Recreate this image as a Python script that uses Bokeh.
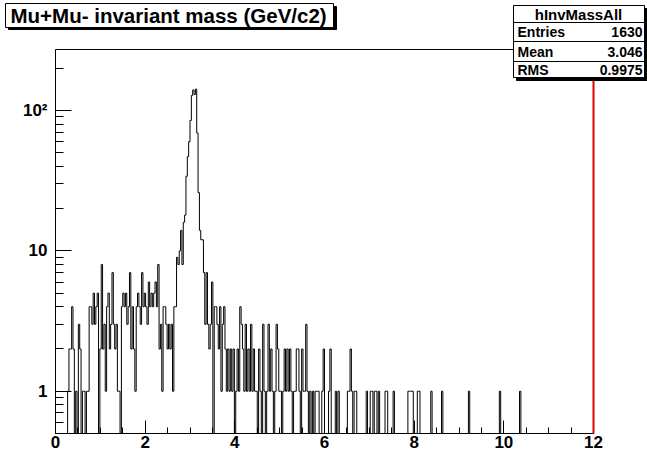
import numpy as np
from bokeh.plotting import figure
from bokeh.models import FixedTicker, BoxAnnotation, Label, Range1d, LinearAxis, LogAxis
from bokeh.embed import file_html
from bokeh.resources import INLINE

# Dimuon invariant mass histogram: 400 bins of 0.03 GeV/c2 from 0 to 12
BIN_LO = 0.0
BIN_HI = 12.0
counts = [
    0, 0, 0, 0, 0, 0, 0, 0, 0, 1,
    2, 2, 4, 2, 0, 1, 0, 3, 2, 0,
    1, 1, 0, 1, 1, 4, 4, 3, 5, 3,
    4, 5, 0, 2, 8, 2, 3, 1, 4, 5,
    2, 3, 7, 3, 2, 3, 1, 1, 0, 4,
    5, 4, 5, 3, 4, 7, 2, 4, 2, 1,
    4, 5, 4, 3, 7, 4, 5, 4, 3, 6,
    4, 5, 4, 5, 6, 4, 8, 2, 3, 1,
    4, 4, 3, 2, 3, 2, 3, 1, 4, 4,
    9, 8, 10, 14, 8, 16, 18, 34, 47, 60,
    85, 128, 140, 130, 142, 69, 26, 14, 12, 12,
    7, 3, 7, 3, 2, 3, 6, 0, 4, 4,
    3, 2, 4, 1, 3, 4, 2, 1, 2, 1,
    2, 1, 2, 0, 1, 2, 1, 4, 3, 2,
    1, 3, 1, 2, 1, 3, 1, 2, 1, 1,
    0, 2, 1, 0, 3, 1, 0, 1, 3, 1,
    2, 1, 0, 1, 3, 2, 1, 1, 0, 1,
    2, 1, 2, 1, 2, 1, 0, 1, 1, 2,
    2, 1, 0, 2, 1, 1, 3, 1, 0, 1,
    0, 1, 0, 1, 1, 1, 0, 0, 1, 2,
    0, 0, 0, 1, 2, 0, 0, 0, 1, 0,
    1, 0, 0, 0, 0, 0, 0, 1, 1, 2,
    1, 0, 1, 1, 0, 0, 0, 0, 0, 0,
    0, 1, 0, 0, 1, 1, 0, 1, 1, 0,
    1, 0, 0, 0, 0, 1, 1, 0, 0, 0,
    0, 1, 0, 0, 0, 0, 0, 0, 0, 0,
    0, 0, 1, 1, 1, 1, 0, 0, 0, 1,
    1, 0, 0, 0, 0, 0, 0, 0, 0, 1,
    0, 0, 0, 0, 0, 0, 0, 1, 0, 0,
    0, 0, 0, 0, 0, 0, 0, 0, 0, 0,
    0, 0, 0, 0, 0, 0, 0, 1, 0, 0,
    0, 0, 0, 0, 0, 0, 0, 0, 0, 0,
    0, 0, 0, 0, 0, 0, 0, 0, 0, 0,
    1, 0, 0, 0, 0, 0, 0, 0, 0, 0,
    0, 0, 0, 0, 0, 1, 0, 0, 0, 0,
    0, 0, 0, 0, 0, 0, 0, 0, 0, 0,
    0, 0, 0, 0, 0, 0, 0, 0, 0, 0,
    0, 0, 0, 0, 0, 0, 0, 0, 0, 0,
    0, 0, 0, 0, 0, 0, 0, 0, 0, 0,
    0, 0, 0, 0, 0, 0, 0, 0, 0, 0,
]

x_ticks = [0, 2, 4, 6, 8, 10, 12]
x_minor = [0.5 * k for k in range(25)]
Y_BOT, Y_TOP = 0.5, 272
y_ticks = [1, 10, 100]
y_minor = [0.6, 0.7, 0.8, 0.9] + list(range(2, 10)) + list(range(20, 100, 10)) + [200]
y_tick_labels = {1: "1", 10: "10", 100: "10\u00b2"}

title_text = "Mu+Mu- invariant mass (GeV/c2)"
stats_name = "hInvMassAll"
stats_labels = ["Entries", "Mean", "RMS"]
stats_values = ["1630", "3.046", "0.9975"]

FONT = "Liberation Sans"

# canvas size and where the histogram frame sits on it (pixels from top-left)
W, H = 647, 454
FL, FR, FT, FB = 55, 593, 49, 433

# the plotting area covers the whole canvas, so the ranges are widened
# to put the frame box at the pixel positions above
px_per_gev = (FR - FL) / (BIN_HI - BIN_LO)
x_start = BIN_LO - FL / px_per_gev
x_end = BIN_HI + (W - FR) / px_per_gev
px_per_decade = (FB - FT) / np.log10(Y_TOP / Y_BOT)
y_start = Y_BOT * 10 ** (-(H - FB) / px_per_decade)
y_end = Y_TOP * 10 ** (FT / px_per_decade)

p = figure(
    width=W, height=H,
    y_axis_type="log",
    x_range=Range1d(x_start, x_end),
    y_range=Range1d(y_start, y_end),
    x_axis_location=None, y_axis_location=None,
    output_backend="svg",
    toolbar_location=None,
    min_border=0,
)
p.grid.visible = False
p.background_fill_color = "white"
p.border_fill_color = "white"
p.outline_line_color = None

# outline of the histogram as one stepped path; empty bins drop to the axis floor
edges = np.linspace(BIN_LO, BIN_HI, len(counts) + 1)
c = np.asarray(counts, dtype=float)
h = np.where(c > 0, c, Y_BOT)
xs = np.concatenate([[edges[0]], np.repeat(edges, 2)[1:-1], [edges[-1]]])
ys = np.concatenate([[Y_BOT], np.repeat(h, 2), [Y_BOT]])
p.line(xs, ys, line_color="black", line_width=1)


def style_labels(ax):
    ax.major_label_text_font = FONT
    ax.major_label_text_font_style = "bold"
    ax.major_label_text_font_size = "17px"
    ax.major_label_text_color = "black"
    ax.major_tick_out = 0
    ax.minor_tick_out = 0
    ax.axis_line_color = "black"
    ax.major_tick_line_color = "black"
    ax.minor_tick_line_color = "black"


xax = LinearAxis(fixed_location=Y_BOT, bounds=(BIN_LO, BIN_HI),
                 ticker=FixedTicker(ticks=x_ticks, minor_ticks=x_minor))
style_labels(xax)
xax.major_tick_in = 13
xax.minor_tick_in = 6
xax.major_label_standoff = 2
p.add_layout(xax, "below")

yax = LogAxis(fixed_location=BIN_LO, bounds=(Y_BOT, Y_TOP),
              ticker=FixedTicker(ticks=y_ticks, minor_ticks=y_minor))
style_labels(yax)
yax.major_tick_in = 16
yax.minor_tick_in = 8
yax.major_label_standoff = 8
yax.major_label_overrides = y_tick_labels
p.add_layout(yax, "left")

# upper frame edge (black) and right frame edge (red), no ticks
top_edge = LinearAxis(fixed_location=Y_TOP, bounds=(BIN_LO, BIN_HI),
                      ticker=FixedTicker(ticks=[]), axis_line_color="black",
                      major_label_text_alpha=0, major_tick_in=0, major_tick_out=0,
                      minor_tick_in=0, minor_tick_out=0)
p.add_layout(top_edge, "above")
right_edge = LogAxis(fixed_location=BIN_HI, bounds=(Y_BOT, Y_TOP),
                     ticker=FixedTicker(ticks=[]), axis_line_color="#e00000",
                     axis_line_width=2,
                     major_label_text_alpha=0, major_tick_in=0, major_tick_out=0,
                     minor_tick_in=0, minor_tick_out=0)
p.add_layout(right_edge, "right")


def box(l, t, r, b, fill, line=None):
    p.add_layout(BoxAnnotation(
        left=l, right=r, top=H - t, bottom=H - b,
        left_units="screen", right_units="screen", top_units="screen", bottom_units="screen",
        fill_color=fill, fill_alpha=1.0,
        line_color=line if line else fill, line_alpha=1.0, line_width=1,
    ))


def text(cx, cy, s, size, align):
    p.add_layout(Label(
        x=cx, y=H - cy, x_units="screen", y_units="screen", text=s,
        text_font=FONT, text_font_style="bold", text_font_size=size,
        text_align=align, text_baseline="middle", text_color="black",
    ))


# title pave with drop shadow
box(8, 6, 336, 29, "black")
box(5, 3, 333, 27, "white", "black")
text(10, 15, title_text, "20.5px", "left")

# statistics pave with drop shadow
box(516, 8, 647, 80, "black")
row_edges = [5, 22, 41, 61, 77]
for i in range(4):
    box(513, row_edges[i], 644, row_edges[i + 1], "white", "black")
text(578, 14, stats_name, "15px", "center")
for i, (lab, val) in enumerate(zip(stats_labels, stats_values)):
    cy = (row_edges[i + 1] + row_edges[i + 2]) / 2
    text(517, cy, lab, "14px", "left")
    text(642, cy, val, "14px", "right")

open("out.html", "w").write(file_html(p, INLINE))
